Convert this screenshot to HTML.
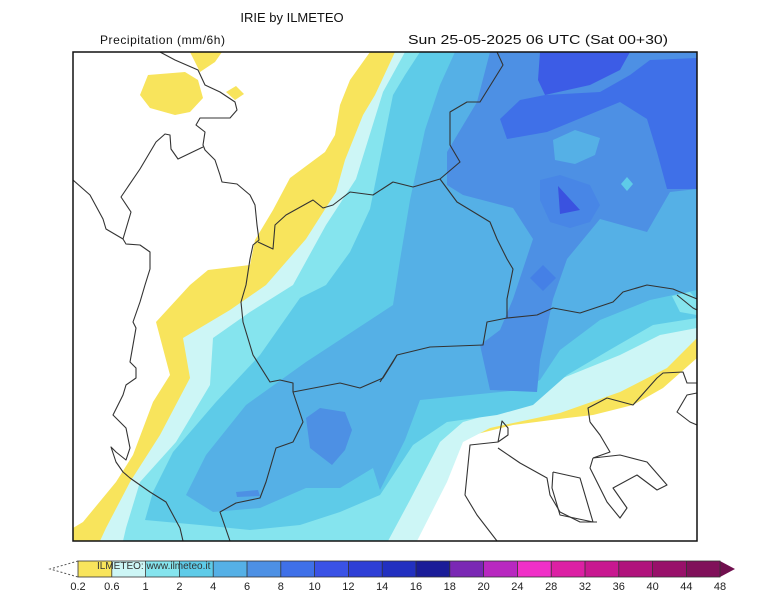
<!DOCTYPE html>
<html><head><meta charset="utf-8"><style>
html,body{margin:0;padding:0;background:#fff;}
svg{display:block;font-family:"Liberation Sans",sans-serif;}
</style></head><body>
<svg width="770" height="594" viewBox="0 0 770 594" xmlns="http://www.w3.org/2000/svg">
<rect width="770" height="594" fill="#fff"/>
<text x="292" y="22" font-size="13" text-anchor="middle" fill="#111">IRIE by ILMETEO</text>
<text x="100" y="44" font-size="12" fill="#111" textLength="125">Precipitation (mm/6h)</text>
<text x="408" y="44" font-size="13" fill="#111" textLength="260" lengthAdjust="spacingAndGlyphs">Sun 25-05-2025 06 UTC (Sat 00+30)</text>
<defs><clipPath id="c"><rect x="73" y="52" width="624" height="489"/></clipPath></defs>
<g clip-path="url(#c)">
<polygon fill="#f8e45c" points="370,52 350,80 340,105 335,135 325,152 290,178 273,210 255,240 250,265 208,270 190,285 156,322 170,375 153,402 133,455 116,482 83,522 73,528 73,541 393,541 423,502 450,448 473,435 513,425 567,418 593,415 633,405 663,388 697,358 697,52"/>
<polygon fill="#f8e45c" points="148,75 185,72 198,80 203,98 190,112 175,115 150,108 140,95"/>
<polygon fill="#f8e45c" points="190,52 222,52 215,62 200,72"/>
<polygon fill="#f8e45c" points="226,92 236,86 244,94 235,100"/>
<polygon fill="#cdf6f6" points="395,52 375,95 363,115 345,160 336,192 306,239 266,285 230,310 183,338 190,378 160,435 130,482 106,528 100,541 417,541 447,482 463,442 490,428 560,413 620,392 667,368 697,338 697,52"/>
<polygon fill="#85e4ee" points="405,52 383,92 356,179 326,225 293,285 250,312 213,338 210,385 176,442 140,482 126,528 123,541 388,541 410,500 440,442 463,422 513,408 563,378 620,355 660,335 697,328 697,52"/>
<polygon fill="#5ecbe8" points="420,52 405,75 393,95 370,209 350,252 326,285 300,298 260,355 216,402 173,452 153,492 145,520 200,525 250,530 300,525 340,512 380,495 413,445 447,422 497,415 533,405 567,375 613,348 653,325 697,318 697,52"/>
<polygon fill="#55b0e6" points="455,52 440,85 425,130 410,200 400,260 393,305 306,362 246,405 206,455 186,495 213,512 260,508 306,488 340,488 373,468 380,490 405,440 420,400 470,395 520,390 540,380 560,350 600,320 650,300 697,290 697,52"/>
<polygon fill="#4d90e4" points="490,52 477,102 447,152 447,185 463,195 513,208 533,239 523,269 513,299 500,330 480,345 490,390 537,392 540,360 553,299 567,259 600,219 647,232 670,192 697,189 697,52"/>
<polygon fill="#4d90e4" points="306,418 320,408 345,412 352,430 345,450 332,465 310,448"/>
<polygon fill="#4d90e4" points="236,492 258,490 260,496 237,497"/>
<polygon fill="#3f70e8" points="500,119 520,100 545,95 600,92 630,75 650,60 697,58 697,189 667,189 657,152 647,119 620,102 547,132 507,139"/>
<polygon fill="#3c5ce6" points="540,52 630,52 620,70 590,85 545,95 538,80"/>
<polygon fill="#55b0e6" points="553,140 575,130 600,138 595,155 575,164 555,160"/>
<polygon fill="#4886e6" points="540,180 560,175 590,185 600,205 590,222 570,228 550,222 540,200"/>
<polygon fill="#3a52e0" points="558,186 580,210 560,214"/>
<polygon fill="#4580e6" points="530,278 543,265 556,278 543,291"/>
<polygon fill="#5ecbe8" points="627,177 633,184 627,191 621,184"/>
<polygon fill="#85e4ee" points="672,296 690,292 697,300 697,315 680,312"/>
<g fill="none" stroke="#333" stroke-width="1.1" stroke-linejoin="round">
<polyline points="160,52 175,60 198,70 205,85 220,92 235,102 237,110 230,118 200,118 196,125 205,132 203,145 205,150 215,160 220,175 222,182 237,184 250,195 255,205 257,225 259,240 253,245 250,259 246,285 241,302 243,322 253,355 270,382 280,380 293,383 293,392 303,422 293,442 276,448 266,482 260,498 236,503 220,512 230,541"/>
<polyline points="258,242 273,249 275,225 286,215 313,200 323,208 333,205 350,192 373,195 393,182 413,187 440,179 460,162 450,145 450,112 467,102 480,102 503,65 497,52"/>
<polyline points="440,179 457,202 490,222 497,239 507,259 513,269 507,299 507,318 487,322 483,345 430,347 397,355 380,382"/>
<polyline points="293,392 340,383 360,388 383,378 393,362 397,355"/>
<polyline points="507,318 537,315 553,308 580,313 613,302 623,292 647,285 673,289 697,299"/>
<polyline points="677,295 693,308 697,310"/>
<polyline points="73,180 90,195 103,219 106,229 123,239 126,244 140,245 150,252 150,269 145,285 140,302 133,322 136,328 130,362 136,368 136,378 126,385 123,395 113,415 126,428 130,448 126,460 116,452 111,447 116,462 123,472 130,478 150,492 166,502 173,515 180,528 183,541"/>
<polyline points="123,239 131,212 121,197 140,169 156,142 165,134 170,135 171,149 178,159 203,147"/>
<polyline points="497,541 477,515 465,495 470,445 498,442 508,435 508,428 502,421 498,442"/>
<polyline points="498,448 520,463 547,478 550,495 560,512 580,522 597,522"/>
<polyline points="553,472 580,478 593,522 560,515 552,488 553,472"/>
<polyline points="593,458 620,455 647,462 667,485 657,490 637,475 613,488 627,508 620,518 607,502 590,468 593,458"/>
<polyline points="590,422 588,408 607,398 633,405 657,378 663,373 683,372 687,383 697,383"/>
<polyline points="590,422 600,435 610,452 593,458"/>
<polyline points="697,393 687,395 677,412 690,422 697,425"/>
</g>
</g>
<rect x="73" y="52" width="624" height="489" fill="none" stroke="#111" stroke-width="1.5"/>
<g>
<polyline points="78,561 50,569 78,577" fill="none" stroke="#555" stroke-width="1" stroke-dasharray="2,2"/>
<rect x="78" y="561" width="33.8" height="16" fill="#f8e45c"/>
<rect x="111.8" y="561" width="33.8" height="16" fill="#cdf6f6"/>
<rect x="145.6" y="561" width="33.8" height="16" fill="#85e4ee"/>
<rect x="179.4" y="561" width="33.8" height="16" fill="#5ecbe8"/>
<rect x="213.2" y="561" width="33.8" height="16" fill="#55b0e6"/>
<rect x="247" y="561" width="33.8" height="16" fill="#4d90e4"/>
<rect x="280.8" y="561" width="33.8" height="16" fill="#3f70e8"/>
<rect x="314.6" y="561" width="33.8" height="16" fill="#3a52e6"/>
<rect x="348.4" y="561" width="33.8" height="16" fill="#2e3fd6"/>
<rect x="382.2" y="561" width="33.8" height="16" fill="#2230c0"/>
<rect x="416" y="561" width="33.8" height="16" fill="#1a1c98"/>
<rect x="449.8" y="561" width="33.8" height="16" fill="#7a28b4"/>
<rect x="483.6" y="561" width="33.8" height="16" fill="#b828c0"/>
<rect x="517.4" y="561" width="33.8" height="16" fill="#f030c8"/>
<rect x="551.2" y="561" width="33.8" height="16" fill="#dc20a4"/>
<rect x="585" y="561" width="33.8" height="16" fill="#c81890"/>
<rect x="618.8" y="561" width="33.8" height="16" fill="#b0137c"/>
<rect x="652.6" y="561" width="33.8" height="16" fill="#98106a"/>
<rect x="686.4" y="561" width="33.8" height="16" fill="#80105a"/>
<polygon points="720,561 735,569 720,577" fill="#70104e"/>
<g stroke="#333" stroke-width="0.8" fill="none">
<rect x="78" y="561" width="642" height="16"/>
<path d="M111.8 561v16M145.6 561v16M179.4 561v16M213.2 561v16M247 561v16M280.8 561v16M314.6 561v16M348.4 561v16M382.2 561v16M416 561v16M449.8 561v16M483.6 561v16M517.4 561v16M551.2 561v16M585 561v16M618.8 561v16M652.6 561v16M686.4 561v16"/>
</g>
<text x="97" y="569" font-size="10" fill="#333">ILMETEO: www.ilmeteo.it</text>
<g font-size="11" fill="#222" text-anchor="middle">
<text x="78" y="590">0.2</text><text x="111.8" y="590">0.6</text><text x="145.6" y="590">1</text><text x="179.4" y="590">2</text><text x="213.2" y="590">4</text><text x="247" y="590">6</text><text x="280.8" y="590">8</text><text x="314.6" y="590">10</text><text x="348.4" y="590">12</text><text x="382.2" y="590">14</text><text x="416" y="590">16</text><text x="449.8" y="590">18</text><text x="483.6" y="590">20</text><text x="517.4" y="590">24</text><text x="551.2" y="590">28</text><text x="585" y="590">32</text><text x="618.8" y="590">36</text><text x="652.6" y="590">40</text><text x="686.4" y="590">44</text><text x="720" y="590">48</text>
</g>
</g>
</svg>
</body></html>
